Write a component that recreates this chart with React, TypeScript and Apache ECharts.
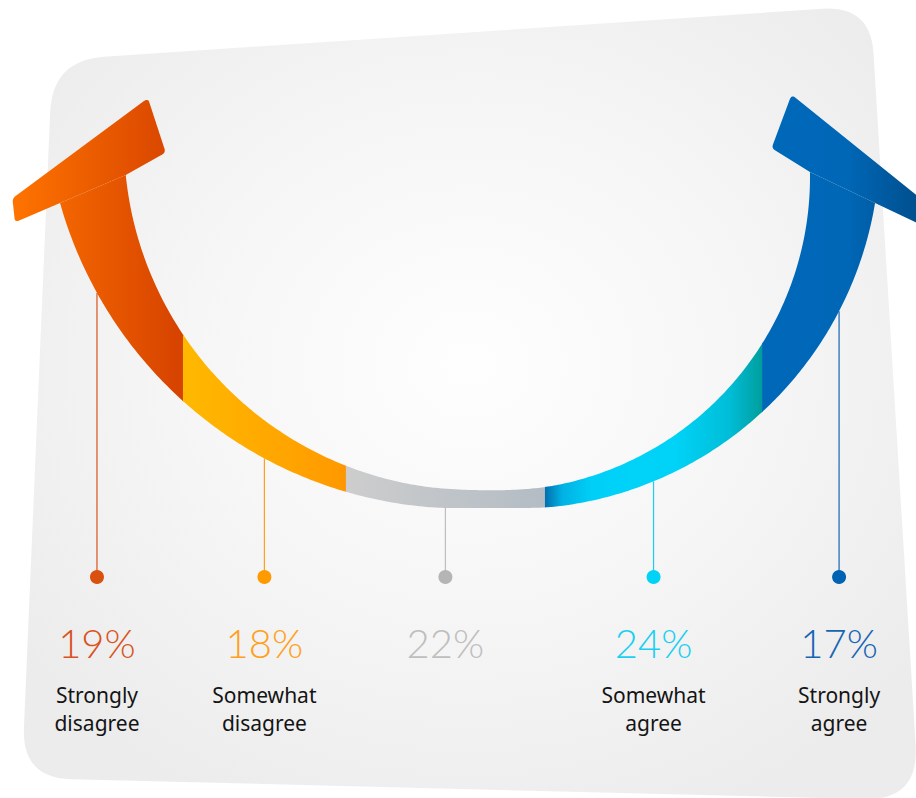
import React, { useEffect, useRef } from 'react';
import * as echarts from 'echarts';

// ---------- data ----------
const categories = ['Strongly\ndisagree', 'Somewhat\ndisagree', '', 'Somewhat\nagree', 'Strongly\nagree'];
const shares = [19, 18, 22, 24, 17];
const shareLabels = ['19%', '18%', '22%', '24%', '17%'];

// ---------- style ----------
const accentColors = ['#D9531E', '#FFA01C', '#BEBEBE', '#1CCFF2', '#1665B4'];
const dotColors = ['#D9500F', '#FF9A00', '#B5B5B5', '#00D3F6', '#0062B2'];
const bandStops: [number, string][][] = [
  [[0, '#FF7400'], [1, '#D64200']],
  [[0, '#FFB900'], [0.96, '#FF9A00'], [1, '#FF9400']],
  [[0, '#CDCDCD'], [1, '#B3BCC4']],
  [[0, '#0070AE'], [0.08, '#00B2E4'], [0.22, '#00D0F8'], [0.6, '#00D3F7'], [0.85, '#00BDD8'], [1, '#009E9C']],
  [[0, '#0068B9'], [0.55, '#0067B7'], [1, '#00508E']],
];

type Pt = [number, number];
type Circle = { cx: number; cy: number; r: number };

// crescent geometry (pixels)
const OUT_L: Circle = { cx: 463, cy: 90, r: 418.5 };
const OUT_R: Circle = { cx: 514, cy: 143, r: 366 };
const IN_L: Circle = { cx: 474, cy: 140, r: 350 };
const IN_R: Circle = { cx: 496, cy: 177, r: 314 };
const OUT_BLEND: [number, number] = [430, 560];
const IN_BLEND: [number, number] = [420, 560];
const OUT_TOP = 203;
const IN_TOP_L = 175;
const IN_TOP_R = 172;
const DOT_Y = 577;
const PCT_Y = 643;
const LABEL_Y = 709;

function angAtY(c: Circle, y: number, side: number) {
  const dy = y - c.cy;
  const dx = side * Math.sqrt(Math.max(0, c.r * c.r - dy * dy));
  return Math.atan2(dx, dy);
}
function angAtX(c: Circle, x: number) {
  return Math.asin((x - c.cx) / c.r);
}
function circY(c: Circle, x: number) {
  return c.cy + Math.sqrt(Math.max(0, c.r * c.r - (x - c.cx) * (x - c.cx)));
}
function blendY(cl: Circle, cr: Circle, b: [number, number], x: number) {
  if (x <= b[0]) return circY(cl, x);
  if (x >= b[1]) return circY(cr, x);
  const t = (x - b[0]) / (b[1] - b[0]);
  const w = t * t * (3 - 2 * t);
  return (1 - w) * circY(cl, x) + w * circY(cr, x);
}
function arcPts(c: Circle, a0: number, a1: number, n: number): Pt[] {
  const pts: Pt[] = [];
  for (let i = 0; i <= n; i++) {
    const a = a0 + ((a1 - a0) * i) / n;
    pts.push([c.cx + c.r * Math.sin(a), c.cy + c.r * Math.cos(a)]);
  }
  return pts;
}
function curvePts(cl: Circle, cr: Circle, b: [number, number], topL: number, topR: number): Pt[] {
  const left = arcPts(cl, angAtY(cl, topL, -1), angAtX(cl, b[0]), 140);
  const mid: Pt[] = [];
  for (let x = b[0] + 2; x < b[1]; x += 2) mid.push([x, blendY(cl, cr, b, x)]);
  const right = arcPts(cr, angAtX(cr, b[1]), angAtY(cr, topR, 1), 140);
  return left.concat(mid, right);
}
const outerY = (x: number) => blendY(OUT_L, OUT_R, OUT_BLEND, x);

const outerPts = curvePts(OUT_L, OUT_R, OUT_BLEND, OUT_TOP, OUT_TOP);
const innerPts = curvePts(IN_L, IN_R, IN_BLEND, IN_TOP_L, IN_TOP_R);
const bandPoly: Pt[] = outerPts.concat(innerPts.slice().reverse());

function clipX(poly: Pt[], x: number, keepGreater: boolean): Pt[] {
  const out: Pt[] = [];
  for (let i = 0; i < poly.length; i++) {
    const a = poly[i];
    const b = poly[(i + 1) % poly.length];
    const ina = keepGreater ? a[0] >= x : a[0] <= x;
    const inb = keepGreater ? b[0] >= x : b[0] <= x;
    if (ina) out.push(a);
    if (ina !== inb) {
      const t = (x - a[0]) / (b[0] - a[0]);
      out.push([x, a[1] + t * (b[1] - a[1])]);
    }
  }
  return out;
}

function roundPoly(pts: Pt[], radii: number[], steps = 6): Pt[] {
  const out: Pt[] = [];
  const n = pts.length;
  for (let i = 0; i < n; i++) {
    const p = pts[i];
    const r = radii[i];
    if (!r) {
      out.push(p);
      continue;
    }
    const prev = pts[(i - 1 + n) % n];
    const next = pts[(i + 1) % n];
    const lp = Math.hypot(prev[0] - p[0], prev[1] - p[1]);
    const ln = Math.hypot(next[0] - p[0], next[1] - p[1]);
    const d1 = Math.min(r, lp / 2);
    const d2 = Math.min(r, ln / 2);
    const a: Pt = [p[0] + ((prev[0] - p[0]) / lp) * d1, p[1] + ((prev[1] - p[1]) / lp) * d1];
    const b: Pt = [p[0] + ((next[0] - p[0]) / ln) * d2, p[1] + ((next[1] - p[1]) / ln) * d2];
    for (let s = 0; s <= steps; s++) {
      const t = s / steps;
      const mt = 1 - t;
      out.push([
        mt * mt * a[0] + 2 * mt * t * p[0] + t * t * b[0],
        mt * mt * a[1] + 2 * mt * t * p[1] + t * t * b[1],
      ]);
    }
  }
  return out;
}

function arrowHead(po: Pt, pi: Pt): Pt[] {
  const ux = pi[0] - po[0];
  const uy = pi[1] - po[1];
  const L = Math.hypot(ux, uy);
  const u: Pt = [ux / L, uy / L];
  let nv: Pt = [u[1], -u[0]];
  if (nv[1] > 0) nv = [-nv[0], -nv[1]];
  const P = (a: number, b: number): Pt => [po[0] + a * u[0] + b * nv[0], po[1] + a * u[1] + b * nv[1]];
  const pts: Pt[] = [P(-49, 0), P(-42, 23), P(122, 62), P(117, 5), P(L, 0), P(0, 0)];
  return roundPoly(pts, [4, 4, 5, 4, 0, 0]);
}

const panelPts: Pt[] = roundPoly(
  [
    [52.4, 60.2],
    [870.6, 5.6],
    [919, 800.5],
    [21.8, 778],
  ],
  [52, 48, 55, 50],
  14
);

export default function App() {
  const ref = useRef<HTMLDivElement>(null);
  useEffect(() => {
    document.body.style.margin = '0';
    if (!ref.current) return;
    const chart = echarts.init(ref.current, undefined, { renderer: 'svg' });
    let cum = 0;
    const data = shares.map((v, i) => {
      const row = [cum, cum + v, i];
      cum += v;
      return row;
    });
    const last = shares.length - 1;
    const Po_L = outerPts[0];
    const Pi_L = innerPts[0];
    const Po_R = outerPts[outerPts.length - 1];
    const Pi_R = innerPts[innerPts.length - 1];

    chart.setOption({
      animation: false,
      backgroundColor: '#FFFFFF',
      grid: { left: 11, right: 0, top: 0, bottom: 0 },
      xAxis: { type: 'value', min: 0, max: 100, show: false },
      yAxis: { type: 'value', min: 0, max: 10, show: false },
      graphic: {
        elements: [
          {
            type: 'polygon',
            z: 0,
            silent: true,
            shape: { points: panelPts },
            style: {
              fill: new echarts.graphic.RadialGradient(0.5, 0.45, 0.62, [
                { offset: 0, color: '#FEFEFE' },
                { offset: 0.5, color: '#F6F6F6' },
                { offset: 1, color: '#ECECEC' },
              ]),
            },
          },
        ],
      },
      series: [
        {
          type: 'custom',
          z: 5,
          clip: false,
          data,
          encode: { x: [0, 1] },
          renderItem: (params: any, api: any) => {
            const i = params.dataIndex;
            const x0 = api.coord([api.value(0), 0])[0];
            const x1 = api.coord([api.value(1), 0])[0];
            const xm = (x0 + x1) / 2;
            const poly = clipX(clipX(bandPoly, x0, true), i === last ? x1 : x1 + 0.7, false);
            const grad = new echarts.graphic.LinearGradient(
              x0,
              0,
              x1,
              0,
              bandStops[i].map(([o, c]) => ({ offset: o, color: c })),
              true
            );
            const children: any[] = [];
            children.push({
              type: 'line',
              shape: { x1: xm, y1: outerY(xm), x2: xm, y2: DOT_Y },
              style: { stroke: accentColors[i], lineWidth: 1.2 },
            });
            children.push({ type: 'polygon', shape: { points: poly }, style: { fill: grad } });
            if (i === 0) {
              children.push({ type: 'polygon', shape: { points: arrowHead(Po_L, Pi_L) }, style: { fill: grad } });
            }
            if (i === last) {
              children.push({ type: 'polygon', shape: { points: arrowHead(Po_R, Pi_R) }, style: { fill: grad } });
            }
            children.push({
              type: 'circle',
              shape: { cx: xm, cy: DOT_Y, r: 7 },
              style: { fill: dotColors[i] },
            });
            children.push({
              type: 'text',
              style: {
                text: shareLabels[i],
                x: xm,
                y: PCT_Y,
                fill: accentColors[i],
                fontSize: 40,
                fontWeight: 300,
                fontFamily: 'Lato, "Noto Sans", sans-serif',
                align: 'center',
                verticalAlign: 'middle',
                textAlign: 'center',
                textVerticalAlign: 'middle',
              },
            });
            if (categories[i]) {
              children.push({
                type: 'text',
                style: {
                  text: categories[i],
                  x: xm,
                  y: LABEL_Y,
                  fill: '#141414',
                  fontSize: 21,
                  lineHeight: 28,
                  fontWeight: 'normal',
                  fontFamily: '"Noto Sans", sans-serif',
                  align: 'center',
                  verticalAlign: 'middle',
                  textAlign: 'center',
                  textVerticalAlign: 'middle',
                },
              });
            }
            return { type: 'group', children };
          },
        },
      ],
    });
    return () => chart.dispose();
  }, []);
  return <div ref={ref} style={{ width: 916, height: 798 }} />;
}
